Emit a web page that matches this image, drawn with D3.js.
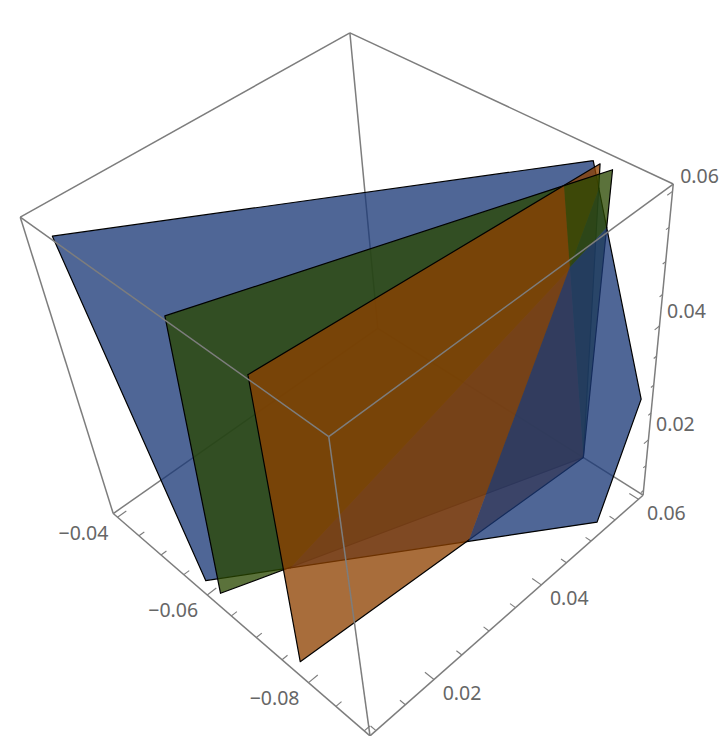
<!DOCTYPE html>
<html>
<head>
<meta charset="utf-8">
<script src="https://cdn.jsdelivr.net/npm/d3@7"></script>
<style>
  html, body { margin: 0; background: #fff; }
  text { font-family: "Noto Sans", sans-serif; font-size: 19.5px; fill: #666; }
</style>
</head>
<body>
<script>
// polygon corners, [x, y, z]
const bluePolygon = [[0.01, -0.0436, 0.06], [0.06, -0.0806, 0.06], [0.06, -0.09, 0.0276], [0.0524, -0.09, 0.01], [0.01, -0.0587, 0.01]];
const greenPolygon = [[0.01, -0.0644, 0.06], [0.06, -0.0834, 0.06], [0.06, -0.0813, 0.0104], [0.01, -0.0618, 0.01]];
const orangePolygon = [[0.01, -0.0779, 0.06], [0.06, -0.0816, 0.06], [0.06, -0.0813, 0.0104], [0.01, -0.0775, 0.01]];

const xRange = [0.009, 0.061], yRange = [-0.091, -0.039], zRange = [0.009, 0.061];

const xTicks = [0.01, 0.015, 0.02, 0.025, 0.03, 0.035, 0.04, 0.045, 0.05, 0.055, 0.06];
const yTicks = [-0.04, -0.045, -0.05, -0.055, -0.06, -0.065, -0.07, -0.075, -0.08, -0.085, -0.09];
const zTicks = [0.01, 0.015, 0.02, 0.025, 0.03, 0.035, 0.04, 0.045, 0.05, 0.055, 0.06];
const xLabels = [0.02, 0.04, 0.06];
const yLabels = [-0.04, -0.06, -0.08];
const zLabels = [0.02, 0.04, 0.06];

const width = 720, height = 736;

// each axis goes to the unit cube, then through the camera fitted to the box
const xScale = d3.scaleLinear().domain(xRange).range([0, 1]);
const yScale = d3.scaleLinear().domain(yRange).range([0, 1]);
const zScale = d3.scaleLinear().domain(zRange).range([0, 1]);

const camera = [363.38882, -237.17484, -113.51695, 370.01486,
                -171.15477, -133.53646, -395.33015, 735.93307,
                0.14051, 0.17303, -0.21977, 1];
const eye = [-1.053, -1.386, 2.786];

function toUnit(d) { return [xScale(d[0]), yScale(d[1]), zScale(d[2])]; }

function project(p) {
    let w = camera[8] * p[0] + camera[9] * p[1] + camera[10] * p[2] + 1;
    return [
        (camera[0] * p[0] + camera[1] * p[1] + camera[2] * p[2] + camera[3]) / w,
        (camera[4] * p[0] + camera[5] * p[1] + camera[6] * p[2] + camera[7]) / w
    ];
}

let svg = d3.select("body").append("svg")
    .attr("width", width)
    .attr("height", height)
    .style("display", "block");

let line = d3.line();
let fmt = d3.format(".2f");

function drawSegments(group, segments, strokeWidth) {
    group.selectAll("path")
        .data(segments)
        .enter().append("path")
        .attr("d", d => line([project(d[0]), project(d[1])]))
        .attr("fill", "none")
        .attr("stroke", "#7d7d7d")
        .attr("stroke-width", strokeWidth);
}

// box corners in unit coordinates
const top_back = [1, 1, 1], top_left = [0, 1, 1], top_right = [1, 0, 1], top_front = [0, 0, 1];
const low_hidden = [1, 1, 0], low_left = [0, 1, 0], low_right = [1, 0, 0], low_front = [0, 0, 0];

// the three edges that meet in the hidden corner go under the polygons
drawSegments(svg.append("g"), [
    [top_back, low_hidden],
    [low_left, low_hidden],
    [low_right, low_hidden]
], 1.5);

// --- polygons, split and ordered with a small BSP so the overlaps come out right
const EPS = 0.004;

function planeOf(poly) {
    let n = [0, 0, 0];
    poly.forEach((v, i) => {
        let a = v.p, b = poly[(i + 1) % poly.length].p;
        n[0] += (a[1] - b[1]) * (a[2] + b[2]);
        n[1] += (a[2] - b[2]) * (a[0] + b[0]);
        n[2] += (a[0] - b[0]) * (a[1] + b[1]);
    });
    let len = Math.hypot(n[0], n[1], n[2]);
    n = n.map(c => c / len);
    let c = [0, 1, 2].map(k => d3.mean(poly, v => v.p[k]));
    return { n: n, d: -(n[0] * c[0] + n[1] * c[1] + n[2] * c[2]) };
}

function dist(plane, p) {
    return plane.n[0] * p[0] + plane.n[1] * p[1] + plane.n[2] * p[2] + plane.d;
}

// keeps the part on one side; edge tells if the side after a vertex is a real outline
function clip(poly, plane, sign) {
    let out = [];
    poly.forEach((a, i) => {
        let b = poly[(i + 1) % poly.length];
        let da = sign * dist(plane, a.p), db = sign * dist(plane, b.p);
        let hit = () => {
            let t = da / (da - db);
            return a.p.map((v, k) => v + t * (b.p[k] - v));
        };
        if (da >= -EPS && db >= -EPS) {
            out.push({ p: a.p, edge: a.edge });
        } else if (da >= -EPS) {
            if (da > EPS) {
                out.push({ p: a.p, edge: a.edge });
                out.push({ p: hit(), edge: false });
            } else {
                out.push({ p: a.p, edge: false });
            }
        } else if (db > EPS) {
            out.push({ p: hit(), edge: a.edge });
        }
    });
    return out;
}

function order(items) {
    if (!items.length) return [];
    let root = items[0], plane = planeOf(root.poly);
    let front = [], back = [];
    items.slice(1).forEach(item => {
        let f = clip(item.poly, plane, 1), b = clip(item.poly, plane, -1);
        if (f.length > 2) front.push({ name: item.name, poly: f });
        if (b.length > 2) back.push({ name: item.name, poly: b });
    });
    return dist(plane, eye) > 0
        ? [...order(back), root, ...order(front)]
        : [...order(front), root, ...order(back)];
}

function makeItem(name, polygon) {
    return { name: name, poly: polygon.map(d => ({ p: toUnit(d), edge: true })) };
}

const fills = { blue: "rgb(26,56,119)", green: "rgb(42,71,0)", orange: "rgb(142,65,0)" };

const pieces = order([
    makeItem("orange", orangePolygon),
    makeItem("green", greenPolygon),
    makeItem("blue", bluePolygon)
]);

let polygons = svg.append("g");

pieces.forEach(piece => {
    let pts = piece.poly.map(v => project(v.p));
    polygons.append("path")
        .attr("d", line(pts) + "Z")
        .attr("fill", fills[piece.name])
        .attr("fill-opacity", 0.77);
    let outline = "";
    pts.forEach((pt, i) => {
        if (piece.poly[i].edge) outline += line([pt, pts[(i + 1) % pts.length]]);
    });
    polygons.append("path")
        .attr("d", outline)
        .attr("fill", "none")
        .attr("stroke", "#000")
        .attr("stroke-linecap", "round")
        .attr("stroke-width", 1.2);
});

// --- the rest of the box on top
drawSegments(svg.append("g"), [
    [top_back, top_left],
    [top_back, top_right],
    [top_left, top_front],
    [top_right, top_front],
    [top_left, low_left],
    [top_right, low_right],
    [top_front, low_front],
    [low_left, low_front],
    [low_front, low_right]
], 1.5);

// --- ticks: each axis points its ticks along another box direction
function tickLength(value, labels, major) {
    return labels.includes(value) ? major : major * 0.6;
}

drawSegments(svg.append("g"), xTicks.map(v => {
    let u = xScale(v);
    return [[u, 0, 0], [u, tickLength(v, xLabels, 0.03), 0]];
}), 1.1);

drawSegments(svg.append("g"), yTicks.map(v => {
    let u = yScale(v);
    return [[0, u, 0], [tickLength(v, yLabels, 0.03), u, 0]];
}), 1.1);

drawSegments(svg.append("g"), zTicks.map(v => {
    let u = zScale(v);
    return [[1, 0, u], [1 - tickLength(v, zLabels, 0.018), 0, u]];
}), 1.1);

// --- tick labels sit at a fixed distance from their tick
function drawLabels(values, toPoint, dx, dy) {
    svg.append("g").selectAll("text")
        .data(values)
        .enter().append("text")
        .attr("x", d => project(toPoint(d))[0] + dx)
        .attr("y", d => project(toPoint(d))[1] + dy)
        .attr("text-anchor", "middle")
        .attr("dominant-baseline", "central")
        .text(d => fmt(d));
}

drawLabels(xLabels, v => [xScale(v), 0, 0], 28, 13);
drawLabels(yLabels, v => [0, yScale(v), 0], -34, 15);
drawLabels(zLabels, v => [1, 0, zScale(v)], 27, -16);
</script>
</body>
</html>
